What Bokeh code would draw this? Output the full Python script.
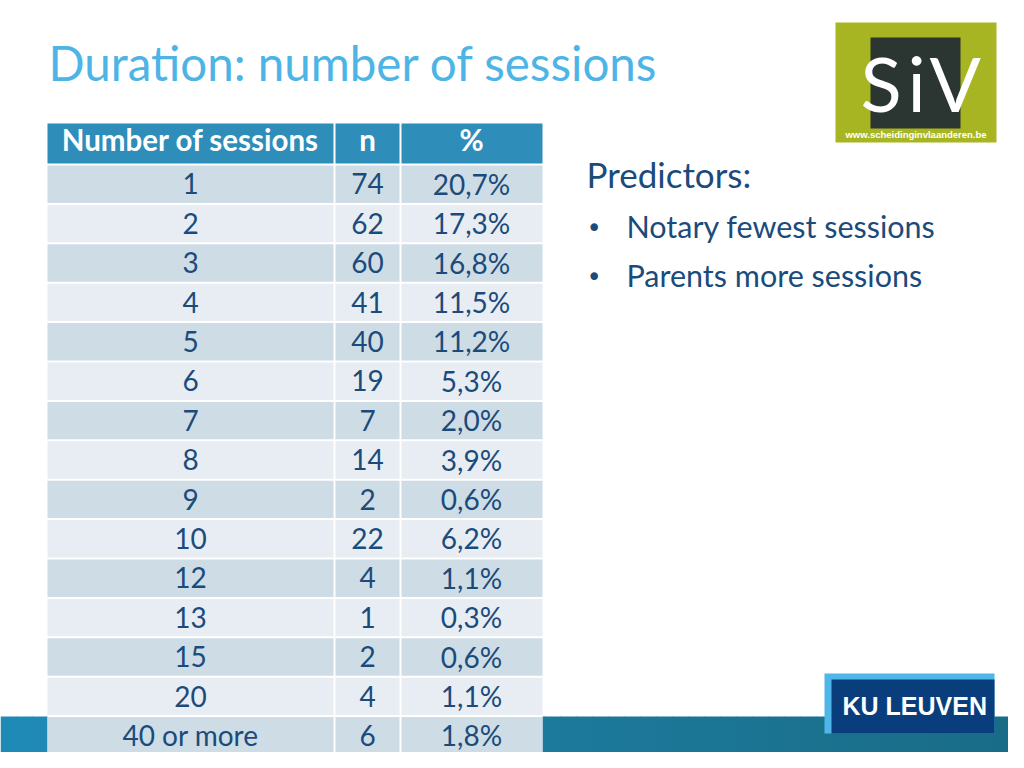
from bokeh.plotting import figure
from bokeh.models import Range1d
from bokeh.core.properties import value
from bokeh.embed import file_html
from bokeh.resources import INLINE

# ---- data ----
sessions = ["1", "2", "3", "4", "5", "6", "7", "8", "9", "10", "12", "13", "15", "20", "40 or more"]
n_values = [74, 62, 60, 41, 40, 19, 7, 14, 2, 22, 4, 1, 2, 4, 6]
pct_values = [20.7, 17.3, 16.8, 11.5, 11.2, 5.3, 2.0, 3.9, 0.6, 6.2, 1.1, 0.3, 0.6, 1.1, 1.8]
headers = ["Number of sessions", "n", "%"]
title = "Duration: number of sessions"
predictors_title = "Predictors:"
predictors = ["Notary fewest sessions", "Parents more sessions"]

# ---- style ----
FONT = "Lato"
TXT = "#1B4B7B"
HEAD_BG = "#2E8DB9"
ROW_DARK = "#CEDCE6"
ROW_LIGHT = "#E7EDF2"
SHIFT = 0.4  # baseline correction (em)

p = figure(width=1008, height=752, output_backend="svg", toolbar_location=None,
           x_range=Range1d(0, 1008), y_range=Range1d(752, 0),
           min_border=0, background_fill_color="white", border_fill_color="white")
p.axis.visible = False
p.grid.visible = False
p.outline_line_color = None


def txt(xs, ys, texts, size, color, align="left", font=FONT, style="normal"):
    p.text(x=xs, y=[y - SHIFT * size for y in ys], text=texts, text_font=value(font),
           text_font_style=style, text_font_size=value("%gpx" % size), text_color=color,
           text_align=align, text_baseline="alphabetic")


# bottom band (gradient)
c0 = (0x20, 0x8A, 0xB7)
c1 = (0x19, 0x6C, 0x86)
N = 64
lefts, rights, cols = [], [], []
for k in range(N):
    t = k / (N - 1)
    col = tuple(int(round(c0[j] + (c1[j] - c0[j]) * t)) for j in range(3))
    lefts.append(k * 1024 / N)
    rights.append((k + 1) * 1024 / N + 0.5)
    cols.append("#%02x%02x%02x" % col)
p.quad(left=lefts, right=rights, top=[716] * N, bottom=[770] * N, fill_color=cols, line_color=None)

# title
txt([48], [81], [title], 47.5, "#4DB5E6")

# table
col_edges = [47, 334, 400, 542]
col_centers = [190, 367, 471]
gap = 2
head_top, head_bot = 123, 163
row_top0 = 164
row_h = 39.4

# white backing so gaps stay white over the band
p.quad(left=[col_edges[0]], right=[col_edges[-1]], top=[head_top], bottom=[770], fill_color="white", line_color=None)

hl, hr = [], []
for c in range(3):
    hl.append(col_edges[c] + (gap / 2 if c > 0 else 0))
    hr.append(col_edges[c + 1] - (gap / 2 if c < 2 else 0))
p.quad(left=hl, right=hr, top=[head_top] * 3, bottom=[head_bot] * 3, fill_color=HEAD_BG, line_color=None)
txt(col_centers, [151] * 3, headers, 29.5, "white", align="center", style="bold")

cl, cr, ct, cb, cc = [], [], [], [], []
tx, ty, tt = [], [], []
for i in range(len(sessions)):
    top = row_top0 + row_h * i + gap / 2
    bot = row_top0 + row_h * (i + 1) - gap / 2
    fill = ROW_DARK if i % 2 == 0 else ROW_LIGHT
    for c in range(3):
        cl.append(col_edges[c] + (gap / 2 if c > 0 else 0))
        cr.append(col_edges[c + 1] - (gap / 2 if c < 2 else 0))
        ct.append(top)
        cb.append(bot)
        cc.append(fill)
    base = row_top0 + 30.5 + row_h * i
    vals = [sessions[i], str(n_values[i]), ("%.1f%%" % pct_values[i]).replace(".", ",")]
    for c in range(3):
        tx.append(col_centers[c])
        ty.append(base)
        tt.append(vals[c])
p.quad(left=cl, right=cr, top=ct, bottom=cb, fill_color=cc, line_color=None)
txt(tx, ty, tt, 28, TXT, align="center")

# predictors
txt([586], [187], [predictors_title], 35, TXT)
by = [238 + 49 * k for k in range(len(predictors))]
txt([586] * len(predictors), by, ["\u2022"] * len(predictors), 26, TXT, font="DejaVu Sans")
txt([626] * len(predictors), by, predictors, 30.5, TXT)

# SiV logo
p.quad(left=[835], right=[996], top=[22], bottom=[142], fill_color="#A8B523", line_color=None)
p.quad(left=[870], right=[960], top=[37], bottom=[128], fill_color="#2B3531", line_color=None)
txt([860, 907, 929], [112, 112, 112], ["S", "i", "V"], 76, "white")
txt([915.5], [138], ["www.scheidinginvlaanderen.be"], 9.5, "white", align="center",
    font="Liberation Sans", style="bold")

# KU Leuven logo
p.quad(left=[824], right=[994], top=[673], bottom=[733], fill_color="#4EB6E8", line_color=None)
p.quad(left=[831], right=[994], top=[679], bottom=[733], fill_color="#093D7C", line_color=None)
txt([842], [715], ["KU LEUVEN"], 25, "white", font="Liberation Sans", style="bold")

open("out.html", "w").write(file_html(p, INLINE))
